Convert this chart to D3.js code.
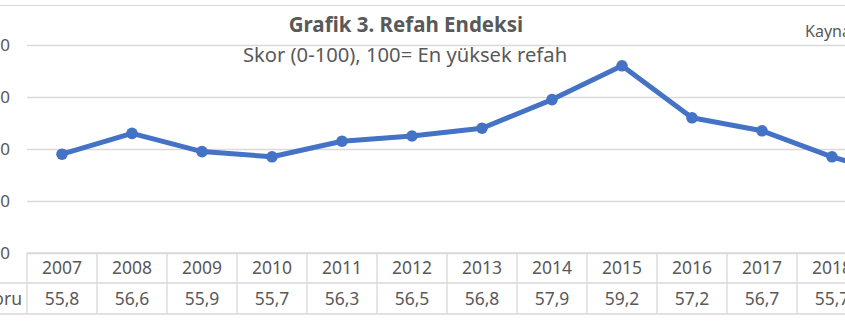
<!DOCTYPE html>
<html>
<head>
<meta charset="utf-8">
<script src="https://cdn.jsdelivr.net/npm/d3@7"></script>
<style>
  body { margin: 0; background: #fff; }
  svg { display: block; font-family: "Noto Sans", "Open Sans", sans-serif; }
</style>
</head>
<body>
<svg id="chart" width="845" height="321"></svg>
<script>
// Chart data
var years = ['2007', '2008', '2009', '2010', '2011', '2012', '2013', '2014', '2015', '2016', '2017', '2018', '2019'];
var scores = [55.8, 56.6, 55.9, 55.7, 56.3, 56.5, 56.8, 57.9, 59.2, 57.2, 56.7, 55.7, 54.9];
var yTicks = [52, 54, 56, 58, 60];
var seriesName = 'Refah Skoru';
var title = 'Grafik 3. Refah Endeksi';
var subtitle = 'Skor (0-100), 100= En yüksek refah';
var source = 'Kaynak: Legatum Enstitüsü';

var width = 845, height = 321;
var gridColor = '#d9d9d9', textColor = '#595959', lineColor = '#4472C4';

var left = 27, colWidth = 70;
var plotTop = 45, plotBottom = 253;
var row1 = 283, row2 = 314;

var svg = d3.select('#chart');

var x = d3.scaleBand()
  .domain(years)
  .range([left, left + colWidth * years.length])
  .padding(0);

var y = d3.scaleLinear()
  .domain([52, 60])
  .range([plotBottom, plotTop]);

var fmt = function(v) { return d3.format('.1f')(v).replace('.', ','); };

// outer frame top edge
svg.append('line')
  .attr('x1', 0).attr('x2', width)
  .attr('y1', 5.5).attr('y2', 5.5)
  .style('stroke', gridColor).style('stroke-width', 1);

// Gridlines + y labels
var yAxis = d3.axisLeft(y)
  .tickValues(yTicks)
  .tickSize(-(width - left))
  .tickFormat(fmt);

svg.append('g')
  .attr('transform', 'translate(' + left + ',0)')
  .call(yAxis)
  .call(function(g) {
    g.select('.domain').remove();
    g.selectAll('.tick line').style('stroke', gridColor).style('stroke-width', 1.3);
    g.selectAll('.tick text')
      .attr('x', -17)
      .style('font-size', '17px')
      .style('fill', textColor)
      .style('font-family', '"Noto Sans", sans-serif');
  });

// Titles
svg.append('text') // Title
  .attr('x', 406)
  .attr('y', 32)
  .attr('text-anchor', 'middle')
  .style('font-size', '20.5px')
  .style('font-weight', 'bold')
  .style('fill', textColor)
  .text(title);

svg.append('text') // Subtitle
  .attr('x', 405)
  .attr('y', 62)
  .attr('text-anchor', 'middle')
  .style('font-size', '20.2px')
  .style('fill', textColor)
  .text(subtitle);

svg.append('text') // Source
  .attr('x', 805)
  .attr('y', 37)
  .style('font-size', '16px')
  .style('fill', textColor)
  .text(source);

// Data table
var table = svg.append('g');

table.append('line')
  .attr('x1', left).attr('x2', width)
  .attr('y1', plotBottom).attr('y2', plotBottom);
table.append('line')
  .attr('x1', 0).attr('x2', width)
  .attr('y1', row1).attr('y2', row1);
table.append('line')
  .attr('x1', 0).attr('x2', width)
  .attr('y1', row2).attr('y2', row2);

var edges = years.map(function(d) { return x(d); }).concat([x.range()[1]]);
table.selectAll('line.v')
  .data(edges)
  .enter().append('line')
  .attr('class', 'v')
  .attr('x1', function(d) { return d; })
  .attr('x2', function(d) { return d; })
  .attr('y1', plotBottom)
  .attr('y2', row2);

table.selectAll('line').style('stroke', gridColor).style('stroke-width', 1.3);

table.selectAll('text.year')
  .data(years)
  .enter().append('text')
  .attr('class', 'year')
  .attr('x', function(d) { return x(d) + x.bandwidth() / 2; })
  .attr('y', 274)
  .attr('text-anchor', 'middle')
  .style('font-size', '17.5px')
  .style('fill', textColor)
  .text(function(d) { return d; });

table.selectAll('text.val')
  .data(scores)
  .enter().append('text')
  .attr('class', 'val')
  .attr('x', function(d, i) { return x(years[i]) + x.bandwidth() / 2; })
  .attr('y', 305)
  .attr('text-anchor', 'middle')
  .style('font-size', '17.5px')
  .style('fill', textColor)
  .text(function(d) { return fmt(d); });

table.append('text') // series name
  .attr('x', 22)
  .attr('y', 305)
  .attr('text-anchor', 'end')
  .style('font-size', '17.5px')
  .style('fill', textColor)
  .text(seriesName);

// Line + markers
var line = d3.line()
  .x(function(d, i) { return x(years[i]) + x.bandwidth() / 2; })
  .y(function(d) { return y(d); });

svg.append('path')
  .datum(scores)
  .attr('d', line)
  .style('fill', 'none')
  .style('stroke', lineColor)
  .style('stroke-width', 5)
  .style('stroke-linejoin', 'round');

svg.selectAll('circle.pt')
  .data(scores)
  .enter().append('circle')
  .attr('class', 'pt')
  .attr('cx', function(d, i) { return x(years[i]) + x.bandwidth() / 2; })
  .attr('cy', function(d) { return y(d); })
  .attr('r', 5.8)
  .style('fill', lineColor);
</script>
</body>
</html>
